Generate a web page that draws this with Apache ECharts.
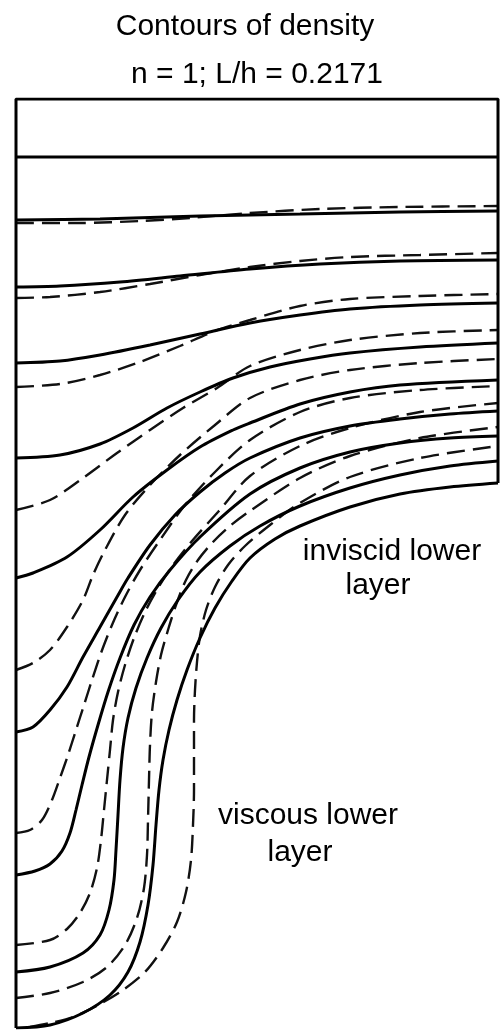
<!DOCTYPE html>
<html>
<head>
<meta charset="utf-8">
<script src="https://cdn.jsdelivr.net/npm/echarts@6/dist/echarts.min.js"></script>
<style>
html,body{margin:0;padding:0;background:#fff;}
#chart{width:500px;height:1030px;}
</style>
</head>
<body>
<div id="chart"></div>
<script>
// Coordinates: x = horizontal distance from the left wall, y = depth below the top lid (same units)
const xMax = 96.4;
const yMax = 185.8;

const frame = [[0,185.8],[0,0],[96.4,0],[96.4,76.8]];

// Solid contours (inviscid lower layer)
const solid1 = [[0,11.6],[96.4,11.6]];
const solid2 = [[0,24.2],[16.8,24],[36.8,23.4],[56.8,23],[76.8,22.6],[96.4,22.4]];
const solid3 = [[0,37.6],[8.8,37.4],[20.8,36.6],[32.8,35.4],[46.8,34],[60.8,33],[76.8,32.4],[96.4,32.2]];
const solid4 = [[0,52.8],[8.8,52.4],[16.8,51.2],[26.8,49.2],[36.8,47],[46.8,44.8],[56.8,43.2],[66.8,42],[80.8,41.2],[96.4,40.8]];
const solid5 = [[0,71.8],[8.8,71.2],[16.8,69],[23.4,65.8],[30.2,61.8],[36.8,58.6],[43.4,55.8],[50.8,53.6],[58.8,52],[66.8,50.8],[80.8,49.6],[96.4,48.8]];
const solid6 = [[0,95.8],[3.4,94.8],[10.2,91.6],[16.8,86.2],[23.4,79.6],[30.2,74.2],[36.8,69.6],[43.4,66.2],[46.8,64.8],[56.8,61],[66.8,58.6],[76.8,57.2],[96.4,56.2]];
const solid7 = [[0,126.6],[3.4,125.6],[6.8,122.2],[10.2,117.6],[13.4,111.6],[16.8,105.6],[20.2,99.6],[22.4,95.8],[26.8,89.2],[31.8,83.2],[36.8,78.6],[41.8,74.8],[46.8,71.8],[56.8,67.8],[66.8,65.4],[76.8,64],[86.8,63],[96.4,62.4]];
const solid8 = [[0,155.2],[3.8,154.4],[6.8,153],[9.2,150.4],[10.8,146.8],[12,142.2],[13.2,137.2],[14.6,131.6],[16.4,125.2],[18.4,118.6],[20.8,111.8],[23.6,105.2],[26.8,99.6],[30.8,94.2],[36.8,87.6],[46.8,79],[56.8,73.8],[66.8,70.6],[76.8,68.8],[86.8,67.8],[96.4,67.4]];
const solid9 = [[0,174.6],[6.8,173.6],[13.4,170.8],[16.8,167.2],[18.6,162.2],[19.6,156.2],[20,150.2],[20.4,143.2],[20.8,136.2],[21.4,129.8],[22.4,123.8],[24,117.8],[26.2,111.8],[29,105.8],[32.4,100.2],[36.8,94.6],[42.8,89.4],[48.8,85.4],[56.8,81.4],[66.8,77.8],[76.8,75.2],[86.8,73.4],[96.4,72.4]];
const solid10 = [[0,185.8],[6.8,185.2],[13.4,182.8],[18.8,179.2],[22.4,174.6],[24.8,168.6],[26.4,161.2],[27.4,153.2],[28,145.2],[28.6,138.2],[29.4,132.2],[30.6,126.2],[32.2,120.2],[34.2,114.2],[36.8,107.8],[39.8,101.8],[43.2,96.4],[46.8,91.8],[51.8,88],[56.8,85.4],[66.8,81.6],[76.8,79],[86.8,77.6],[96.4,76.8]];

// Dashed contours (viscous lower layer)
const dashed1 = [[0,24.8],[12.8,24.8],[24.8,24.4],[34.8,23.8],[46.8,22.8],[60.8,22],[76.8,21.6],[96.4,21.4]];
const dashed2 = [[0,39.8],[6.8,39.6],[16.8,38.6],[26.8,37],[36.8,35.2],[46.8,33.6],[56.8,32.4],[66.8,31.6],[80.8,31.2],[96.4,30.8]];
const dashed3 = [[0,57.6],[8.8,57],[16.8,55.2],[24.8,52.6],[32.8,49.4],[39.8,46.4],[46.8,44.2],[56.8,41.4],[66.8,40],[80.8,39.4],[96.4,39]];
const dashed4 = [[0,82.2],[6.8,80.2],[13.4,75.8],[20.2,70.8],[26.8,66.2],[33.4,61.8],[40.2,57.8],[46.8,53.4],[56.8,50.2],[66.8,48.2],[80.8,46.8],[96.4,46.2]];
const dashed5 = [[0,114.2],[3.4,112.8],[6.8,110.2],[10.2,105.6],[13.4,100.2],[15.4,95.2],[17.8,90.2],[21.8,83.2],[26.8,77.2],[32.8,71.2],[39.8,65.2],[46.8,59.8],[56.8,56.2],[66.8,54.2],[80.8,52.8],[96.4,52]];
const dashed6 = [[0,146.8],[2.8,146.2],[5.2,144.2],[7.2,140.2],[8.8,135.8],[10.4,131.2],[12,126.2],[13.6,121.2],[15.2,116.2],[17,110.8],[19.2,105.2],[21.8,99.6],[24.8,94.2],[28.8,88.2],[33.8,81.2],[39.8,74.6],[46.8,68.2],[56.8,62.6],[66.8,59.8],[80.8,58.2],[96.4,57.4]];
const dashed7 = [[0,169.2],[6.8,168.2],[10.2,166],[12.8,162.8],[14.8,158.8],[16.2,153.8],[17,148.2],[17.6,142.2],[18.2,136.2],[18.8,130.2],[19.4,124.2],[20.4,118.6],[21.8,113.2],[23.6,107.8],[25.8,102.6],[28.4,97.8],[31.4,93.2],[35.2,88.4],[40.4,82.6],[46.8,75.4],[56.8,69.4],[66.8,65.8],[80.8,62.6],[96.4,60.8]];
const dashed8 = [[0,179.8],[6.8,178.8],[13.4,176.6],[18.2,173.6],[21.8,169.2],[24.2,163.8],[25.6,157.8],[26.2,151.2],[26.4,144.2],[26.6,136.2],[26.8,129.2],[27.2,122.6],[28,116.6],[29,111.2],[30.4,106.2],[32,101.2],[34,96.2],[36.4,92.2],[39.4,88.6],[42.8,85.4],[46.8,82.4],[56.8,75.8],[66.8,71.4],[80.8,67.8],[96.4,65.6]];
const dashed9 = [[2.8,185.6],[6.8,184.8],[11.4,183.6],[16.8,181],[21.4,178.2],[25.8,174.6],[29.4,169.8],[32.2,164.6],[34,158.6],[35,152.2],[35.4,145.2],[35.6,138.2],[35.6,131.2],[35.6,124.2],[35.8,118.2],[36.2,112.6],[36.8,107.4],[38,102.2],[39.8,97.6],[42.4,93.2],[45.8,89.4],[50.8,85.2],[56.8,80.8],[66.8,75.6],[80.8,71.8],[96.4,69.4]];

const titleLines = ['Contours of density', 'n = 1; L/h = 0.2171'];
const regionLabels = ['inviscid lower', 'layer', 'viscous lower', 'layer'];

const solids = [solid1, solid2, solid3, solid4, solid5, solid6, solid7, solid8, solid9, solid10];
const dasheds = [dashed1, dashed2, dashed3, dashed4, dashed5, dashed6, dashed7, dashed8, dashed9];

const series = [];
series.push({
  type: 'line', data: frame, showSymbol: false, silent: true,
  lineStyle: { color: '#000', width: 3 }, z: 5
});
solids.forEach(function (d) {
  series.push({
    type: 'line', data: d, showSymbol: false, smooth: 0.3, silent: true,
    lineStyle: { color: '#000', width: 3 }, z: 4
  });
});
dasheds.forEach(function (d) {
  series.push({
    type: 'line', data: d, showSymbol: false, smooth: 0.3, silent: true,
    lineStyle: { color: '#111', width: 2.4, type: [18, 8] }, z: 3
  });
});

const font = '"Liberation Sans", Arial, Helvetica, sans-serif';
function txt(t, x, y) {
  return { type: 'text', x: x, y: y, style: { text: t, font: '30px ' + font, fill: '#000', align: 'center', verticalAlign: 'middle' } };
}

const chart = echarts.init(document.getElementById('chart'), null, { renderer: 'canvas' });
chart.setOption({
  animation: false,
  backgroundColor: '#fff',
  grid: { left: 16, top: 99, width: 482, height: 929, containLabel: false },
  xAxis: { type: 'value', min: 0, max: xMax, show: false },
  yAxis: { type: 'value', min: 0, max: yMax, inverse: true, show: false },
  graphic: [
    txt(titleLines[0], 245, 27),
    txt(titleLines[1], 257, 75),
    txt(regionLabels[0], 392, 552),
    txt(regionLabels[1], 378, 586),
    txt(regionLabels[2], 308, 816),
    txt(regionLabels[3], 300, 853)
  ],
  series: series
});
</script>
</body>
</html>
